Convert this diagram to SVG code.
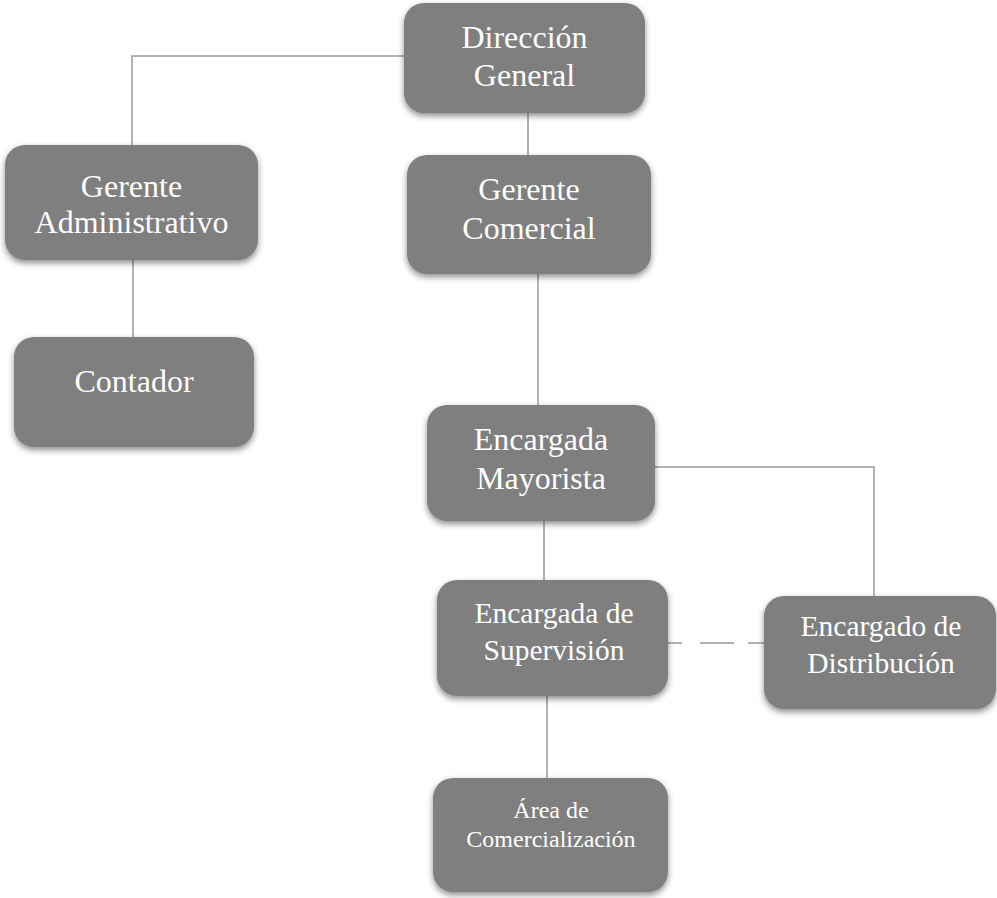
<svg xmlns="http://www.w3.org/2000/svg" width="997" height="898" viewBox="0 0 997 898">
<defs>
<filter id="sh" x="-10%" y="-10%" width="120%" height="130%">
<feDropShadow dx="0" dy="3" stdDeviation="3" flood-color="#000" flood-opacity="0.45"/>
</filter>
<style>
.box{fill:#7f7f7f;filter:url(#sh)}
.t{font-family:"Liberation Serif","Times New Roman",serif;font-size:32px;fill:#fff;text-anchor:middle}
.m{font-size:29.5px}
.s{font-size:24px}
.c{stroke:#9a9a9a;stroke-width:1.5;fill:none}
</style>
</defs>
<rect width="997" height="898" fill="#fff"/>
<g id="connectors">
<path class="c" d="M404 56H132V145"/>
<path class="c" d="M528 113V155"/>
<path class="c" d="M133 260V337"/>
<path class="c" d="M538 274V405"/>
<path class="c" d="M655 467H874V596"/>
<path class="c" d="M544 521V580"/>
<path class="c" d="M668 643H682M700 643H734M748 643H764"/>
<path class="c" d="M547 696V778"/>
</g>
<g id="direccion">
<rect class="box" x="404" y="3" width="241" height="110" rx="20"/>
<text class="t" x="524.5" y="48">Dirección</text>
<text class="t" x="524.5" y="86">General</text>
</g>
<g id="gerente-admin">
<rect class="box" x="5" y="145" width="253" height="115" rx="20"/>
<text class="t" x="131.5" y="197">Gerente</text>
<text class="t" x="131.5" y="233">Administrativo</text>
</g>
<g id="gerente-comercial">
<rect class="box" x="407" y="155" width="244" height="119" rx="20"/>
<text class="t" x="529" y="200">Gerente</text>
<text class="t" x="529" y="239">Comercial</text>
</g>
<g id="contador">
<rect class="box" x="14" y="337" width="240" height="110" rx="20"/>
<text class="t" x="134" y="392">Contador</text>
</g>
<g id="mayorista">
<rect class="box" x="427" y="405" width="228" height="116" rx="20"/>
<text class="t" x="541" y="450">Encargada</text>
<text class="t" x="541" y="489">Mayorista</text>
</g>
<g id="supervision">
<rect class="box" x="437" y="580" width="231" height="116" rx="20"/>
<text class="t m" x="554" y="623">Encargada de</text>
<text class="t m" x="554" y="660">Supervisión</text>
</g>
<g id="distribucion">
<rect class="box" x="764" y="596" width="232" height="113" rx="20"/>
<text class="t m" x="881" y="636">Encargado de</text>
<text class="t m" x="881" y="673">Distribución</text>
</g>
<g id="area">
<rect class="box" x="433" y="778" width="235" height="114" rx="20"/>
<text class="t s" x="551" y="818">Área de</text>
<text class="t s" x="551" y="847">Comercialización</text>
</g>
</svg>
